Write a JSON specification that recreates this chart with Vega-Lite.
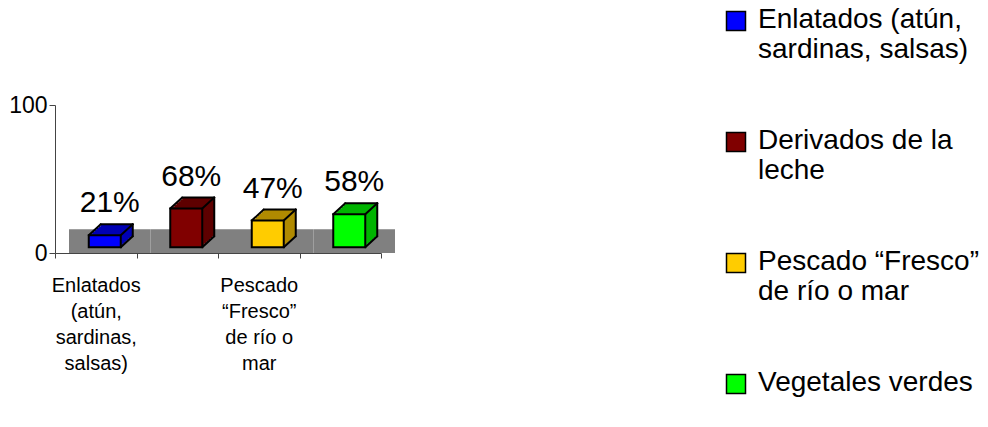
{
  "$schema": "https://vega.github.io/schema/vega-lite/v6.json",
  "width": 326,
  "height": 148,
  "autosize": {"type": "none"},
  "padding": {"left": 55, "top": 105, "right": 607, "bottom": 174},
  "background": "white",
  "config": {"view": {"stroke": null}, "font": "Liberation Sans"},
  "data": {
    "values": [
      {"Categoria": "Enlatados (atún, sardinas, salsas)", "valor": 0.21},
      {"Categoria": "Derivados de la leche", "valor": 0.68},
      {"Categoria": "Pescado “Fresco” de río o mar", "valor": 0.47},
      {"Categoria": "Vegetales verdes", "valor": 0.58}
    ]
  },
  "encoding": {
    "x": {
      "field": "Categoria",
      "type": "nominal",
      "sort": null,
      "scale": {"paddingInner": 0, "paddingOuter": 0},
      "axis": {
        "title": null,
        "labelAngle": 0,
        "tickBand": "extent",
        "tickSize": 5,
        "tickColor": "#444444",
        "domainColor": "#444444",
        "labelFont": "Liberation Sans",
        "labelFontSize": 20,
        "labelLineHeight": 26,
        "labelPadding": 17,
        "labelColor": "black",
        "labelLimit": 300,
        "labelOverlap": false,
        "labelExpr": "datum.label == 'Enlatados (atún, sardinas, salsas)' ? ['Enlatados', '(atún,', 'sardinas,', 'salsas)'] : datum.label == 'Pescado “Fresco” de río o mar' ? ['Pescado', '“Fresco”', 'de río o', 'mar'] : ''"
      }
    }
  },
  "layer": [
    {
      "mark": {"type": "rect", "color": "#808080", "xOffset": 14, "x2Offset": 14},
      "encoding": {
        "y": {
          "datum": 0,
          "type": "quantitative",
          "scale": {"domain": [0, 100], "nice": false},
          "axis": {
            "values": [0, 100],
            "title": null,
            "grid": false,
            "tickSize": 6,
            "tickColor": "#444444",
            "domainColor": "#444444",
            "labelFont": "Liberation Sans",
            "labelFontSize": 23,
            "labelColor": "black",
            "labelPadding": 2,
            "labelFlush": false
          }
        },
        "y2": {"datum": 16}
      }
    },
    {
      "encoding": {
        "y": {
          "field": "valor",
          "type": "quantitative",
          "scale": {"domain": [-0.1, 2.5], "nice": false, "zero": false},
          "axis": null
        }
      },
      "layer": [
        {
          "encoding": {
            "y2": {"datum": 0},
            "color": {
              "field": "Categoria",
              "type": "nominal",
              "sort": null,
              "scale": {
                "domain": ["Enlatados (atún, sardinas, salsas)", "Derivados de la leche", "Pescado “Fresco” de río o mar", "Vegetales verdes"],
                "range": ["#0000B4", "#5E0000", "#B08A00", "#00B400"]
              },
              "legend": null
            }
          },
          "layer": [
            {"mark": {"type": "bar", "width": 32, "xOffset": 21, "yOffset": -11, "y2Offset": -11, "opacity": 1}},
            {"mark": {"type": "bar", "width": 32, "xOffset": 19, "yOffset": -9.2, "y2Offset": -9.2, "opacity": 1}},
            {"mark": {"type": "bar", "width": 32, "xOffset": 17, "yOffset": -7.3, "y2Offset": -7.3, "opacity": 1}},
            {"mark": {"type": "bar", "width": 32, "xOffset": 15, "yOffset": -5.5, "y2Offset": -5.5, "opacity": 1}},
            {"mark": {"type": "bar", "width": 32, "xOffset": 13, "yOffset": -3.7, "y2Offset": -3.7, "opacity": 1}},
            {"mark": {"type": "bar", "width": 32, "xOffset": 11, "yOffset": -1.8, "y2Offset": -1.8, "opacity": 1}}
          ]
        },
        {
          "mark": {"type": "bar", "width": 32, "xOffset": 9, "stroke": "black", "strokeWidth": 2, "opacity": 1},
          "encoding": {
            "y2": {"datum": 0},
            "color": {
              "field": "Categoria",
              "type": "nominal",
              "sort": null,
              "scale": {
                "domain": ["Enlatados (atún, sardinas, salsas)", "Derivados de la leche", "Pescado “Fresco” de río o mar", "Vegetales verdes"],
                "range": ["#0000FF", "#800000", "#FFCC00", "#00FF00"]
              },
              "legend": {
                "orient": "none",
                "legendX": 667,
                "legendY": -99,
                "title": null,
                "symbolType": "square",
                "symbolSize": 361,
                "symbolStrokeColor": "black",
                "symbolStrokeWidth": 1.5,
                "symbolOpacity": 1,
                "labelFont": "Liberation Sans",
                "labelFontSize": 28,
                "labelLineHeight": 30,
                "labelColor": "black",
                "labelOffset": 8,
                "labelLimit": 400,
                "rowPadding": 63,
                "encode": {"symbols": {"update": {"y": {"value": 15}}}},
                "labelExpr": "datum.label == 'Enlatados (atún, sardinas, salsas)' ? ['Enlatados (atún,', 'sardinas, salsas)'] : datum.label == 'Derivados de la leche' ? ['Derivados de la', 'leche'] : datum.label == 'Pescado “Fresco” de río o mar' ? ['Pescado “Fresco”', 'de río o mar'] : datum.label"
              }
            }
          }
        },
        {
          "mark": {"type": "rule", "color": "black", "strokeWidth": 2, "strokeCap": "round", "xOffset": -7, "x2Offset": 5, "yOffset": 0, "y2Offset": -11},
          "encoding": {"x2": {"field": "Categoria"}, "y2": {"field": "valor"}}
        },
        {
          "mark": {"type": "rule", "color": "black", "strokeWidth": 2, "strokeCap": "round", "xOffset": 25, "x2Offset": 37, "yOffset": 0, "y2Offset": -11},
          "encoding": {"x2": {"field": "Categoria"}, "y2": {"field": "valor"}}
        },
        {
          "mark": {"type": "rule", "color": "black", "strokeWidth": 2, "strokeCap": "round", "xOffset": 5, "x2Offset": 37, "yOffset": -11, "y2Offset": -11},
          "encoding": {"x2": {"field": "Categoria"}, "y2": {"field": "valor"}}
        },
        {
          "mark": {"type": "rule", "color": "black", "strokeWidth": 2, "strokeCap": "round", "xOffset": 37, "x2Offset": 37, "yOffset": -11, "y2Offset": -11},
          "encoding": {"x2": {"field": "Categoria"}, "y2": {"datum": 0}}
        },
        {
          "mark": {"type": "rule", "color": "black", "strokeWidth": 2, "strokeCap": "round", "xOffset": 25, "x2Offset": 37, "yOffset": 0, "y2Offset": -11},
          "encoding": {"y": {"datum": 0}, "x2": {"field": "Categoria"}, "y2": {"datum": 0}}
        },
        {
          "mark": {"type": "text", "fontSize": 30, "font": "Liberation Sans", "dy": -23, "dx": 14, "baseline": "alphabetic", "align": "center", "color": "black"},
          "encoding": {
            "text": {"field": "valor", "type": "quantitative", "format": ".0%"}
          }
        }
      ],
      "resolve": {"scale": {"color": "independent"}}
    }
  ],
  "resolve": {"scale": {"y": "independent"}}
}
